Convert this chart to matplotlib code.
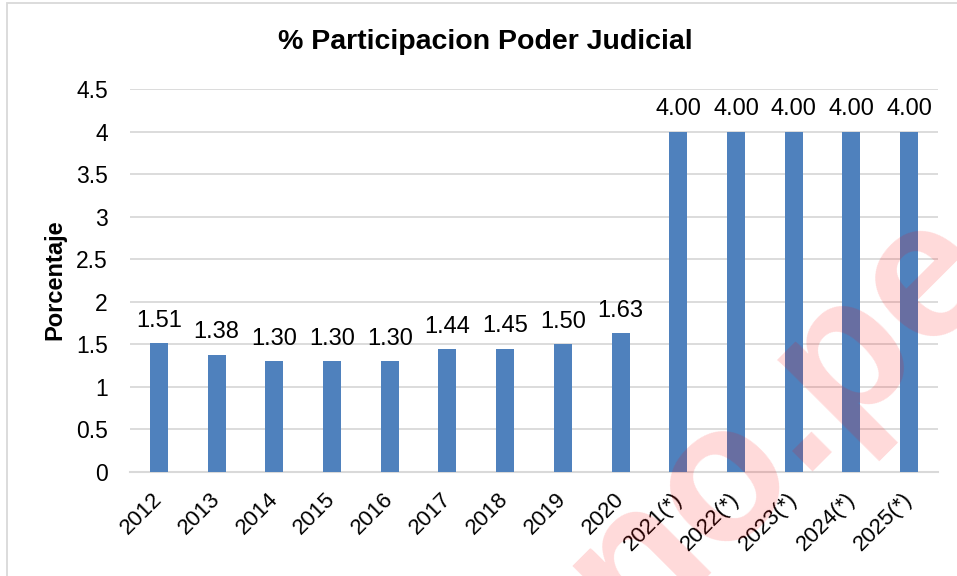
import matplotlib
matplotlib.use("Agg")
import matplotlib.pyplot as plt
import matplotlib.transforms as mtransforms
from matplotlib.patches import Rectangle

categories = ["2012", "2013", "2014", "2015", "2016", "2017", "2018", "2019", "2020",
              "2021(*)", "2022(*)", "2023(*)", "2024(*)", "2025(*)"]
values = [1.51, 1.38, 1.30, 1.30, 1.30, 1.44, 1.45, 1.50, 1.63,
          4.00, 4.00, 4.00, 4.00, 4.00]
yticks = [0, 0.5, 1, 1.5, 2, 2.5, 3, 3.5, 4, 4.5]
ytick_labels = ["0", "0.5", "1", "1.5", "2", "2.5", "3", "3.5", "4", "4.5"]
title = "% Participacion Poder Judicial"
ylabel = "Porcentaje"
watermark = "no.pe"

plt.rcParams['font.family'] = ['Liberation Sans', 'DejaVu Sans']

W, H = 957, 576
fig = plt.figure(figsize=(W / 100, H / 100), dpi=100)
fig.patch.set_facecolor("white")

# outer border
fig.patches.append(Rectangle((7 / W, -0.1), 1.2, 1 - 3 / H + 0.1, transform=fig.transFigure,
                             fill=False, edgecolor="#D9D9D9", linewidth=1.3))

left, right = 130 / W, 938 / W
bottom, top = 1 - 472 / H, 1 - 89 / H
ax = fig.add_axes([left, bottom, right - left, top - bottom])

x = range(len(categories))
ax.bar(x, values, width=0.31, color="#4F81BD", zorder=3)
ax.set_xlim(-0.5, len(categories) - 0.5)
ax.set_ylim(0, 4.5)
ax.set_yticks(yticks)
ax.set_yticklabels(ytick_labels, fontsize=16.5)
ax.set_xticks(list(x))
ax.set_xticklabels(categories, fontsize=16, rotation=45, ha="right", va="top",
                   rotation_mode="anchor")
ax.tick_params(axis="both", length=0)
ax.tick_params(axis="y", pad=16)
ax.tick_params(axis="x", pad=12)
offset = mtransforms.ScaledTranslation(-7 / 100, 0, fig.dpi_scale_trans)
for lbl in ax.get_xticklabels():
    lbl.set_transform(lbl.get_transform() + offset)

ax.grid(axis="y", color="#D9D9D9", linewidth=1.3, zorder=0)
for s in ["top", "right", "left"]:
    ax.spines[s].set_visible(False)
ax.spines["bottom"].set_color("#D9D9D9")
ax.spines["bottom"].set_linewidth(1.5)

for i, v in enumerate(values):
    ax.annotate(f"{v:.2f}", (i, v), xytext=(0, 8), textcoords="offset points",
                ha="center", va="bottom", fontsize=17, color="#000000")

fig.text(485 / W, 1 - 42 / H, title, ha="center", va="center", fontsize=20.5, fontweight="bold")
fig.text(55 / W, 1 - 280 / H, ylabel, ha="center", va="center", rotation=90,
         fontsize=17, fontweight="bold")

fig.text(780 / W, 1 - 420 / H, watermark, ha="center", va="center", rotation=45,
         fontsize=140, fontweight="bold", color="red", alpha=0.15, zorder=10)

fig.savefig("out.png", dpi=100)
